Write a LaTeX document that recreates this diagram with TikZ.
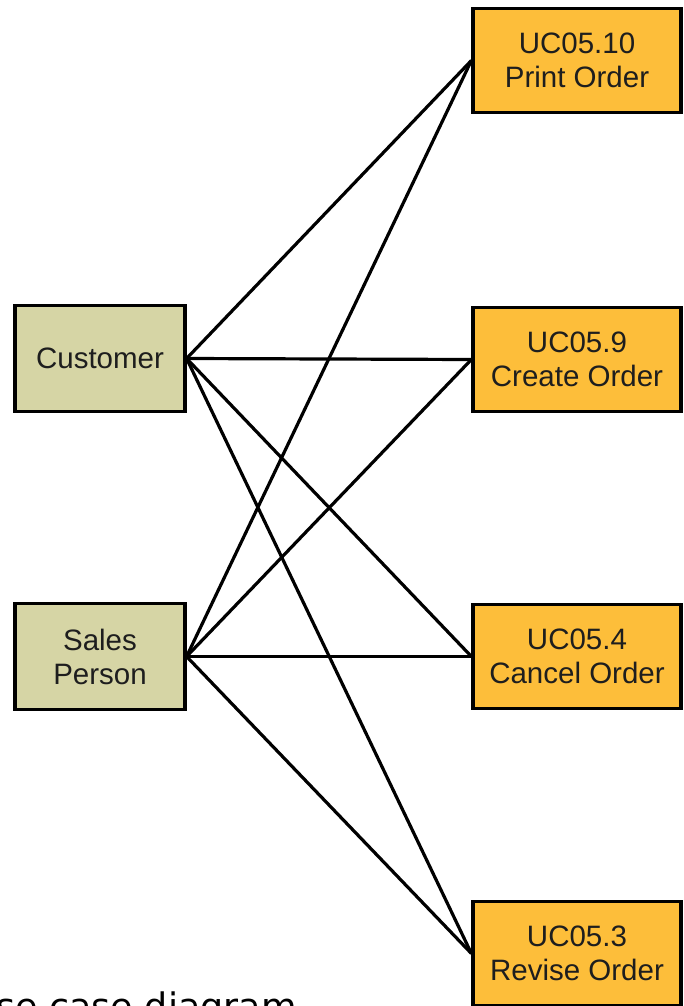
\documentclass[tikz,border=0pt]{standalone}
\usepackage{fontspec}
\setmainfont{Liberation Sans}
\newfontfamily\captionfont{DejaVu Sans}
\definecolor{actorfill}{RGB}{214,213,165}
\definecolor{ucfill}{RGB}{253,190,58}
\definecolor{ink}{RGB}{30,30,30}
\pgfdeclarelayer{links}
\pgfsetlayers{links,main}
\begin{document}
\begin{tikzpicture}[x=1pt,y=-1pt,
  actorbox/.style={draw=black, line width=3.2pt, fill=actorfill, minimum width=170pt,
    minimum height=106pt, inner sep=0pt, align=center, text=ink,
    font=\fontsize{29.5}{34}\selectfont},
  ucbox/.style={draw=black, line width=3.2pt, fill=ucfill, minimum width=208pt,
    minimum height=104pt, inner sep=0pt, align=center, text=ink,
    font=\fontsize{29.5}{34}\selectfont},
  link/.style={draw=black, line width=3.2pt}]
\useasboundingbox (0,0) rectangle (683,1006);

% actors
\node[actorbox] (cust) at (100,358.5) {Customer};
\node[actorbox] (sales) at (100,656.5) {Sales\\Person};

% use cases
\node[ucbox] (uc10) at (577,60.5) {UC05.10\\Print Order};
\node[ucbox] (uc9) at (577,359.5) {UC05.9\\Create Order};
\node[ucbox] (uc4) at (577,656.5) {UC05.4\\Cancel Order};
\node[ucbox] (uc3) at (577,953.5) {UC05.3\\Revise Order};

% associations, on a layer behind the boxes
\begin{pgfonlayer}{links}
\foreach \a in {cust,sales}{
  \foreach \u in {uc10,uc9,uc4,uc3}{
    \draw[link] (\a.east) -- (\u.west);
  }
}
\end{pgfonlayer}

% caption, cut by the page edge
\node[anchor=base east, inner sep=0pt, font=\captionfont\fontsize{36.5}{42}\selectfont] (cap) at (297,1019) {se case diagram};
\end{tikzpicture}
\end{document}
